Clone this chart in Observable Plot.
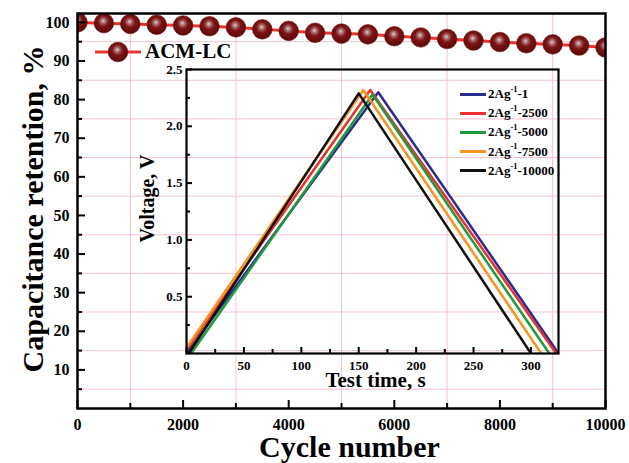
<!DOCTYPE html>
<html>
<head>
<meta charset="utf-8">
<script src="https://cdn.jsdelivr.net/npm/d3@7"></script>
<script src="https://cdn.jsdelivr.net/npm/@observablehq/plot@0.6"></script>
<style>
  html, body { margin: 0; padding: 0; background: #fff; }
  #wrap { position: relative; width: 629px; height: 463px; overflow: hidden; font-family: "Liberation Serif", "Times New Roman", serif; font-weight: bold; }
  #wrap svg { position: absolute; }
  .leg { position: absolute; display: flex; align-items: center; white-space: nowrap; color: #000; }
  .leg .sw { display: inline-block; height: 0; border-top-style: solid; }
  sup { font-size: 65%; line-height: 0; position: relative; top: -0.1em; }
</style>
</head>
<body>
<div id="wrap"></div>
<script>
// ---- Main chart data ----
const cycles = [0, 500, 1000, 1500, 2000, 2500, 3000, 3500, 4000, 4500, 5000,
                5500, 6000, 6500, 7000, 7500, 8000, 8500, 9000, 9500, 10000];
const retention = [100, 99.8, 99.6, 99.4, 99.2, 99.0, 98.7, 98.2, 97.8, 97.3, 97.1,
                   96.9, 96.4, 96.1, 95.7, 95.3, 94.9, 94.6, 94.3, 94.0, 93.5];
const mainSeriesName = "ACM-LC";
const xMajor = [0, 2000, 4000, 6000, 8000, 10000];
const xMinor = [1000, 3000, 5000, 7000, 9000];
const yMajor = [10, 20, 30, 40, 50, 60, 70, 80, 90, 100];
const yMinor = [5, 15, 25, 35, 45, 55, 65, 75, 85, 95];

// ---- Inset (GCD curves) data ----
const insetNames = ["2Ag-1-1", "2Ag-1-2500", "2Ag-1-5000", "2Ag-1-7500", "2Ag-1-10000"];
const insetLabels = ["1", "2500", "5000", "7500", "10000"];
const insetColors = ["#2b2d8e", "#ec3030", "#1f9a3c", "#f7931e", "#111111"];
const t_1     = [0, 167, 324];
const v_1     = [0, 2.30, 0];
const t_2500  = [0, 160, 322];
const v_2500  = [0.03, 2.32, 0];
const t_5000  = [4, 162, 316];
const v_5000  = [0, 2.28, 0];
const t_7500  = [0, 154, 309];
const v_7500  = [0.05, 2.32, 0];
const t_10000 = [2, 150, 300];
const v_10000 = [0, 2.29, 0];
const insetT = [t_1, t_2500, t_5000, t_7500, t_10000];
const insetV = [v_1, v_2500, v_5000, v_7500, v_10000];
const ixMajor = [0, 50, 100, 150, 200, 250, 300];
const ixMinor = [25, 75, 125, 175, 225, 275];
const iyMajor = [0.5, 1.0, 1.5, 2.0, 2.5];
const iyMinor = [0.25, 0.75, 1.25, 1.75, 2.25];

const retData = cycles.map((c, i) => ({cycle: c, value: retention[i]}));
const gcdData = insetNames.flatMap((n, k) => insetT[k].map((t, i) => ({series: n, t, v: insetV[k][i]})));

const FONT = "Liberation Serif, Times New Roman, serif";
const wrap = document.getElementById("wrap");

// ---- Main plot ----
const W = 629, H = 463, mL = 77, mR = 24, mT = 13, mB = 55;
const fh = H - mT - mB, fw = W - mL - mR;
const main = Plot.plot({
  width: W, height: H,
  marginLeft: mL, marginRight: mR, marginTop: mT, marginBottom: mB,
  style: {fontFamily: FONT, fontWeight: "bold", background: "transparent", color: "#000"},
  x: {domain: [0, 10000]},
  y: {domain: [0, 102.3]},
  marks: [
    Plot.gridX(xMinor, {stroke: "#f3c3cf", strokeOpacity: 1, strokeWidth: 1}),
    Plot.gridY(yMinor, {stroke: "#f3c3cf", strokeOpacity: 1, strokeWidth: 1}),
    Plot.line(retData, {x: "cycle", y: "value", stroke: "#e8342c", strokeWidth: 3, clip: "frame"}),
    Plot.dot(retData, {x: "cycle", y: "value", r: 9.8, fill: "url(#ball)", stroke: "#6a0c0c", strokeWidth: 0.6, clip: "frame"}),
    Plot.frame({stroke: "#000", strokeWidth: 2.5}),
    Plot.tickX(xMajor, {x: d => d, insetTop: fh - 8, strokeWidth: 2}),
    Plot.tickX(xMinor, {x: d => d, insetTop: fh - 5, strokeWidth: 2}),
    Plot.tickY(yMajor, {y: d => d, insetRight: fw - 8, strokeWidth: 2}),
    Plot.tickY(yMinor, {y: d => d, insetRight: fw - 5, strokeWidth: 2}),
    Plot.axisX(xMajor, {tickSize: 0, tickPadding: 10, fontSize: 16, fontWeight: "bold", label: null, tickFormat: d => String(d)}),
    Plot.axisY(yMajor, {tickSize: 0, tickPadding: 8, fontSize: 16, fontWeight: "bold", label: null, tickFormat: d => String(d)}),
    Plot.text(["Cycle number"], {text: d => d, frameAnchor: "bottom", lineAnchor: "middle", textAnchor: "middle", dx: 8, dy: 39, fontSize: 30, fontWeight: "bold"}),
    Plot.text(["Capacitance retention, %"], {text: d => d, frameAnchor: "left", textAnchor: "middle", lineAnchor: "middle", dx: -44, dy: -2, rotate: -90, fontSize: 30, fontWeight: "bold"})
  ]
});
main.style.left = "0px"; main.style.top = "0px";
wrap.appendChild(main);

// gradient for glossy balls
const defs = d3.select(main).insert("defs", ":first-child");
const g = defs.append("radialGradient").attr("id", "ball").attr("cx", "48%").attr("cy", "42%").attr("r", "55%").attr("fx", "46%").attr("fy", "38%");
g.append("stop").attr("offset", "0%").attr("stop-color", "#d6d3d3");
g.append("stop").attr("offset", "24%").attr("stop-color", "#a66262");
g.append("stop").attr("offset", "50%").attr("stop-color", "#7d1414");
g.append("stop").attr("offset", "100%").attr("stop-color", "#5e0909");

// ---- Inset plot ----
const iL = 186, iT = 69, iR = 558, iB = 353;
const imL = 55, imR = 8, imT = 12, imB = 42;
const iW = (iR - iL) + imL + imR, iH = (iB - iT) + imT + imB;
const ifh = iB - iT, ifw = iR - iL;
const inset = Plot.plot({
  width: iW, height: iH,
  marginLeft: imL, marginRight: imR, marginTop: imT, marginBottom: imB,
  style: {fontFamily: FONT, fontWeight: "bold", background: "transparent", color: "#000", overflow: "visible"},
  x: {domain: [0, 324]},
  y: {domain: [0, 2.5]},
  color: {domain: insetNames, range: insetColors},
  marks: [
    Plot.line(gcdData, {x: "t", y: "v", z: "series", stroke: "series", strokeWidth: 2.5, clip: "frame"}),
    Plot.frame({stroke: "#000", strokeWidth: 2.2}),
    Plot.tickX(ixMajor, {x: d => d, insetTop: ifh - 6, strokeWidth: 2}),
    Plot.tickX(ixMinor, {x: d => d, insetTop: ifh - 4, strokeWidth: 2}),
    Plot.tickY(iyMajor, {y: d => d, insetRight: ifw - 6, strokeWidth: 2}),
    Plot.tickY(iyMinor, {y: d => d, insetRight: ifw - 4, strokeWidth: 2}),
    Plot.axisX(ixMajor, {tickSize: 0, tickPadding: 7, fontSize: 13, fontWeight: "bold", label: null}),
    Plot.axisY(iyMajor, {tickSize: 0, tickPadding: 4, fontSize: 13, fontWeight: "bold", label: null, tickFormat: d => d.toFixed(1)}),
    Plot.text(["Test time, s"], {text: d => d, frameAnchor: "bottom", lineAnchor: "middle", textAnchor: "middle", dx: 3, dy: 27, fontSize: 21, fontWeight: "bold"}),
    Plot.text(["Voltage, V"], {text: d => d, frameAnchor: "left", textAnchor: "middle", lineAnchor: "middle", dx: -39, dy: -13, rotate: -90, fontSize: 20, fontWeight: "bold"})
  ]
});
inset.style.left = (iL - imL) + "px"; inset.style.top = (iT - imT) + "px";
wrap.appendChild(inset);

// ---- Legends ----
const mainLeg = document.createElement("div");
mainLeg.className = "leg";
mainLeg.style.left = "95px"; mainLeg.style.top = "39px"; mainLeg.style.fontSize = "21px";
mainLeg.innerHTML = `<svg width="46" height="24" style="position:static"><line x1="0" y1="12" x2="46" y2="12" stroke="#e8342c" stroke-width="3"/><circle cx="23" cy="12" r="9.8" fill="url(#ball)" stroke="#6a0c0c" stroke-width="0.6"/></svg><span style="margin-left:4px">${mainSeriesName}</span>`;
wrap.appendChild(mainLeg);

insetNames.forEach((n, k) => {
  const row = document.createElement("div");
  row.className = "leg";
  row.style.left = "460px"; row.style.top = (86 + k * 19.2) + "px"; row.style.fontSize = "13px";
  row.innerHTML = `<span class="sw" style="width:26px;border-top-width:3px;border-top-color:${insetColors[k]}"></span><span style="margin-left:2px">2Ag<sup>-1</sup>-${insetLabels[k]}</span>`;
  wrap.appendChild(row);
});
</script>
</body>
</html>
